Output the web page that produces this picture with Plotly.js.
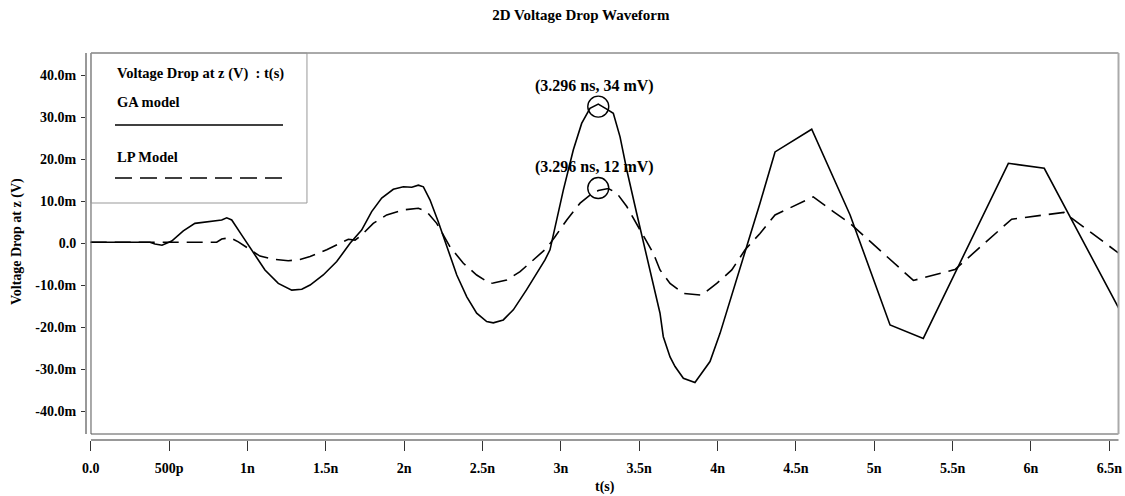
<!DOCTYPE html>
<html>
<head>
<meta charset="utf-8">
<script src="https://cdn.plot.ly/plotly-3.0.1.min.js"></script>
<style>html,body{margin:0;padding:0;background:#fff;}#chart{width:1125px;height:496px;}</style>
</head>
<body>
<div id="chart"></div>
<script>
// ---- data (time in ns, voltage in mV) ----
var gaTime = [0, 0.378, 0.41, 0.455, 0.517, 0.591, 0.665, 0.814, 0.836, 0.868, 0.900, 0.964, 1.027, 1.112, 1.197, 1.283, 1.347, 1.400, 1.484, 1.570, 1.655, 1.729, 1.793, 1.857, 1.931, 1.995, 2.049, 2.091, 2.123, 2.165, 2.218, 2.272, 2.336, 2.400, 2.463, 2.527, 2.569, 2.633, 2.697, 2.782, 2.856, 2.899, 2.931, 2.963, 3.016, 3.080, 3.133, 3.186, 3.239, 3.293, 3.335, 3.378, 3.421, 3.484, 3.548, 3.633, 3.654, 3.697, 3.729, 3.782, 3.856, 3.952, 4.016, 4.101, 4.186, 4.271, 4.367, 4.601, 4.846, 5.101, 5.313, 5.856, 6.085, 6.56];
var gaVolt = [0.3, 0.3, -0.1, -0.4, 0.6, 3.0, 4.8, 5.4, 5.6, 6.1, 5.6, 2.0, -1.5, -6.3, -9.5, -11.1, -10.9, -9.9, -7.5, -4.3, 0.05, 3.2, 7.6, 10.8, 12.9, 13.5, 13.4, 13.9, 13.5, 10.4, 5.2, -0.8, -7.5, -12.7, -16.6, -18.6, -18.9, -18.2, -15.8, -11.0, -6.3, -3.9, -1.5, 4.0, 12.7, 22.3, 28.6, 32.2, 33.2, 32.0, 31.0, 25.4, 17.5, 7.2, -3.1, -16.6, -22.2, -27.0, -29.3, -32.1, -33.1, -28.1, -21.4, -11.1, -0.8, 9.6, 21.8, 27.2, 6.8, -19.4, -22.6, 19.1, 17.9, -15.4];

var lpTime = [0, 0.804, 0.836, 0.889, 0.942, 1.006, 1.080, 1.176, 1.261, 1.336, 1.400, 1.506, 1.591, 1.644, 1.687, 1.729, 1.803, 1.889, 1.995, 2.091, 2.144, 2.208, 2.293, 2.378, 2.463, 2.548, 2.569, 2.655, 2.740, 2.824, 2.910, 2.963, 3.038, 3.123, 3.186, 3.239, 3.303, 3.357, 3.421, 3.506, 3.590, 3.633, 3.697, 3.782, 3.899, 3.995, 4.091, 4.176, 4.271, 4.367, 4.611, 4.739, 4.846, 5.250, 5.515, 5.877, 6.211, 6.56];
var lpVolt = [0.3, 0.3, 1.07, 1.4, 0.4, -1.1, -3.0, -3.8, -4.1, -3.8, -3.1, -1.5, 0.05, 1.0, 0.8, 2.0, 4.8, 6.8, 8.0, 8.4, 7.6, 4.8, -0.8, -4.7, -7.5, -9.5, -9.4, -8.7, -6.7, -3.9, -1.1, 1.6, 5.6, 9.6, 11.5, 12.6, 13.1, 12.0, 8.8, 3.2, -2.3, -6.3, -9.5, -11.9, -12.3, -9.5, -6.3, -1.5, 2.4, 6.8, 11.1, 7.6, 4.8, -8.8, -6.2, 5.8, 7.4, -2.3];

var peakTime = [3.239, 3.239];
var peakVolt = [32.6, 13.2];
var peakLabels = ['(3.296 ns, 34 mV)', '(3.296 ns, 12 mV)'];

var xTickVals = [0, 0.5, 1, 1.5, 2, 2.5, 3, 3.5, 4, 4.5, 5, 5.5, 6, 6.5];
var xTickText = ['0.0', '500p', '1n', '1.5n', '2n', '2.5n', '3n', '3.5n', '4n', '4.5n', '5n', '5.5n', '6n', '6.5n'];
var yTickVals = [-40, -30, -20, -10, 0, 10, 20, 30, 40];
var yTickText = ['-40.0m', '-30.0m', '-20.0m', '-10.0m', '0.0', '10.0m', '20.0m', '30.0m', '40.0m'];

var seriesNames = ['GA model', 'LP Model'];
var legendHeader = 'Voltage Drop at z (V)  : t(s)';
var chartTitle = '2D Voltage Drop Waveform';
var xTitle = 't(s)';
var yTitle = 'Voltage Drop at z (V)';

// ---- drawing ----
var FONT = 'Liberation Serif, Times New Roman, serif';
var traces = [
  {x: gaTime, y: gaVolt, mode: 'lines', name: seriesNames[0],
   line: {color: '#000', width: 1.6}},
  {x: lpTime, y: lpVolt, mode: 'lines', name: seriesNames[1],
   line: {color: '#000', width: 1.6, dash: '16px,8px'}},
  {x: peakTime, y: peakVolt, mode: 'markers', name: 'peaks',
   marker: {symbol: 'circle-open', size: 21, color: '#000', line: {width: 1.4, color: '#000'}}}
];

var annotations = [];
for (var i = 0; i < peakLabels.length; i++) {
  annotations.push({x: peakTime[i], y: peakVolt[i], xref: 'x', yref: 'y',
    text: '<b>' + peakLabels[i] + '</b>', showarrow: false, yshift: 21, xshift: -4,
    font: {family: FONT, size: 16, color: '#000'}});
}
// legend texts
annotations.push({xref: 'paper', yref: 'paper', x: 0.02807, y: 0.9483, xanchor: 'left', yanchor: 'middle',
  text: '<b>' + legendHeader + '</b>', showarrow: false, font: {family: FONT, size: 14.5, color: '#000'}});
annotations.push({xref: 'paper', yref: 'paper', x: 0.02807, y: 0.8734, xanchor: 'left', yanchor: 'middle',
  text: '<b>' + seriesNames[0] + '</b>', showarrow: false, font: {family: FONT, size: 14.5, color: '#000'}});
annotations.push({xref: 'paper', yref: 'paper', x: 0.02807, y: 0.7313, xanchor: 'left', yanchor: 'middle',
  text: '<b>' + seriesNames[1] + '</b>', showarrow: false, font: {family: FONT, size: 14.5, color: '#000'}});
// axis titles
annotations.push({xref: 'paper', yref: 'paper', x: -0.0668, y: 0.514, xanchor: 'center', yanchor: 'middle',
  textangle: -90, text: '<b>' + yTitle + '</b>', showarrow: false, font: {family: FONT, size: 14, color: '#000'}});
annotations.push({xref: 'paper', yref: 'paper', x: 0.502, y: -0.1214, xanchor: 'center', yanchor: 'middle',
  text: '<b>' + xTitle + '</b>', showarrow: false, font: {family: FONT, size: 14, color: '#000'}});

var shapes = [
  // plot frame
  {type: 'line', xref: 'paper', yref: 'paper', x0: 0.00484, x1: 0.99952, y0: 1, y1: 1, line: {color: '#555', width: 1}},
  {type: 'line', xref: 'paper', yref: 'paper', x0: 0.00484, x1: 0.00484, y0: 0.0155, y1: 1, line: {color: '#555', width: 1}},
  {type: 'line', xref: 'paper', yref: 'paper', x0: 0.00484, x1: 0.99952, y0: 0.0155, y1: 0.0155, line: {color: '#555', width: 1}},
  {type: 'line', xref: 'paper', yref: 'paper', x0: 0.99952, x1: 0.99952, y0: 0.0155, y1: 1, line: {color: '#aaa', width: 2}},
  // axis lines
  {type: 'line', xref: 'paper', yref: 'paper', x0: 0, x1: 0, y0: 0.0155, y1: 1, line: {color: '#333', width: 1}},
  {type: 'line', xref: 'paper', yref: 'paper', x0: 0.00484, x1: 0.99952, y0: 0, y1: 0, line: {color: '#333', width: 1}},
  // legend box
  {type: 'rect', xref: 'paper', yref: 'paper', x0: 0.00484, x1: 0.2139, y0: 0.6124, y1: 1, line: {color: '#999', width: 1}, fillcolor: 'rgba(0,0,0,0)'},
  // legend samples
  {type: 'line', xref: 'paper', yref: 'paper', x0: 0.02807, x1: 0.1907, y0: 0.8140, y1: 0.8140, line: {color: '#000', width: 1.6}},
  {type: 'line', xref: 'paper', yref: 'paper', x0: 0.02807, x1: 0.1907, y0: 0.6770, y1: 0.6770, line: {color: '#000', width: 1.6, dash: '17px,8px'}}
];

var layout = {
  width: 1125, height: 496,
  margin: {l: 86, r: 6, t: 53, b: 56, pad: 0},
  paper_bgcolor: '#fff', plot_bgcolor: '#fff',
  showlegend: false,
  font: {family: FONT, size: 14, color: '#000', weight: 'bold'},
  title: {text: '<b>' + chartTitle + '</b>', xref: 'paper', x: 0.479, xanchor: 'center',
          yref: 'container', y: 0.9698, yanchor: 'middle', font: {family: FONT, size: 15, color: '#000'}},
  xaxis: {range: [-0.030, 6.562], tickvals: xTickVals, ticktext: xTickText, ticks: 'outside', ticklen: 10,
          tickwidth: 1, tickcolor: '#333', showgrid: false, zeroline: false, showline: false,
          tickfont: {family: FONT, size: 14, color: '#000', weight: 'bold'}, ticklabelstandoff: 5, fixedrange: true},
  yaxis: {range: [-46.79, 45.36], tickvals: yTickVals, ticktext: yTickText, ticks: 'outside', ticklen: 4,
          tickwidth: 1, tickcolor: '#333', showgrid: false, zeroline: false, showline: false,
          tickfont: {family: FONT, size: 14, color: '#000', weight: 'bold'}, ticklabelstandoff: 2, fixedrange: true},
  shapes: shapes,
  annotations: annotations
};

Plotly.newPlot('chart', traces, layout, {displayModeBar: false, staticPlot: true});
</script>
</body>
</html>
